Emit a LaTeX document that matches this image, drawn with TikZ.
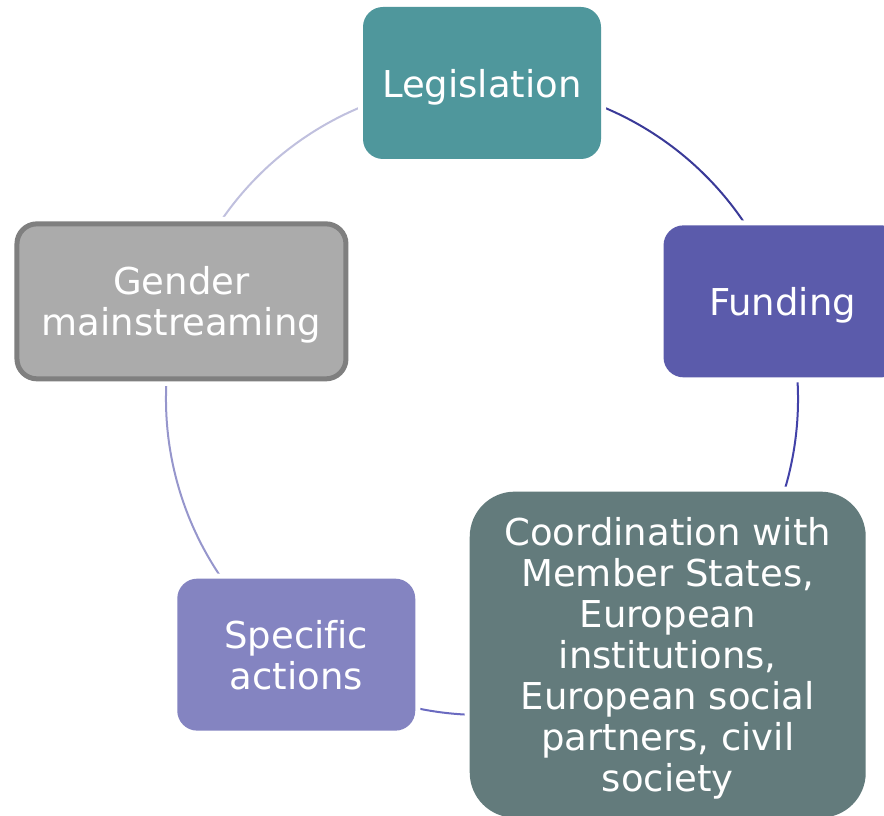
\documentclass[tikz,border=0pt]{standalone}
\usepackage{fontspec}
\setmainfont{DejaVu Sans}[Ligatures=NoCommon]
\usetikzlibrary{positioning,calc,backgrounds}

\definecolor{legfill}{HTML}{4F979C}
\definecolor{fundfill}{HTML}{5B5BAB}
\definecolor{coordfill}{HTML}{637B7C}
\definecolor{specfill}{HTML}{8484C1}
\definecolor{genderfill}{HTML}{ABABAB}
\definecolor{genderline}{HTML}{7F7F7F}
\definecolor{linkA}{HTML}{3A3A98}
\definecolor{linkB}{HTML}{4242A8}
\definecolor{linkC}{HTML}{6A6AC0}
\definecolor{linkD}{HTML}{9696CC}
\definecolor{linkE}{HTML}{C0C0DE}

\begin{document}
\begin{tikzpicture}[
    x=1pt, y=1pt,
    stage/.style={rectangle, rounded corners=20pt, text=white, align=center, inner sep=0pt, text depth=0pt, minimum width=238pt, minimum height=152pt, font=\fontsize{37}{41}\selectfont},
    halo/.style={preaction={draw=white, line width=#1}},
    halo/.default=10pt,
    link/.style={line width=2pt}
]

% Canvas
\useasboundingbox (0,0) rectangle (884,815);
\clip (0,0) rectangle (884,815);

% Centre of the cycle
\coordinate (c) at (482,416);

% Stages
\node[stage, halo, fill=legfill] (leg) at ($(c)+(90:316)$) {Legislation};
\node[stage, halo, fill=fundfill] (fund) at ($(c)+(18:316)$) {Funding};
\node[stage, halo, fill=coordfill, rounded corners=45pt, minimum width=396pt, minimum height=326pt] (coord) at ($(c)+(-54:316)$) {Coordination with\\Member States,\\European\\institutions,\\European social\\partners, civil\\society};
\node[stage, halo, fill=specfill] (spec) at ($(c)+(-126:316)$) {Specific\\actions};
\node[stage, halo=14pt, fill=genderfill, draw=genderline, line width=5pt, minimum width=329pt, minimum height=155pt] (gender) at ($(c)+(162:316)$) {Gender\\mainstreaming};

% Arcs
\begin{scope}[on background layer]
\draw[link, linkA] (leg.center) arc[start angle=90, end angle=18, radius=316];
\draw[link, linkB] (fund.center) arc[start angle=18, end angle=-54, radius=316];
\draw[link, linkC] (coord.center) arc[start angle=-54, end angle=-126, radius=316];
\draw[link, linkD] (spec.center) arc[start angle=-126, end angle=-198, radius=316];
\draw[link, linkE] (gender.center) arc[start angle=162, end angle=90, radius=316];
\end{scope}

\end{tikzpicture}
\end{document}
